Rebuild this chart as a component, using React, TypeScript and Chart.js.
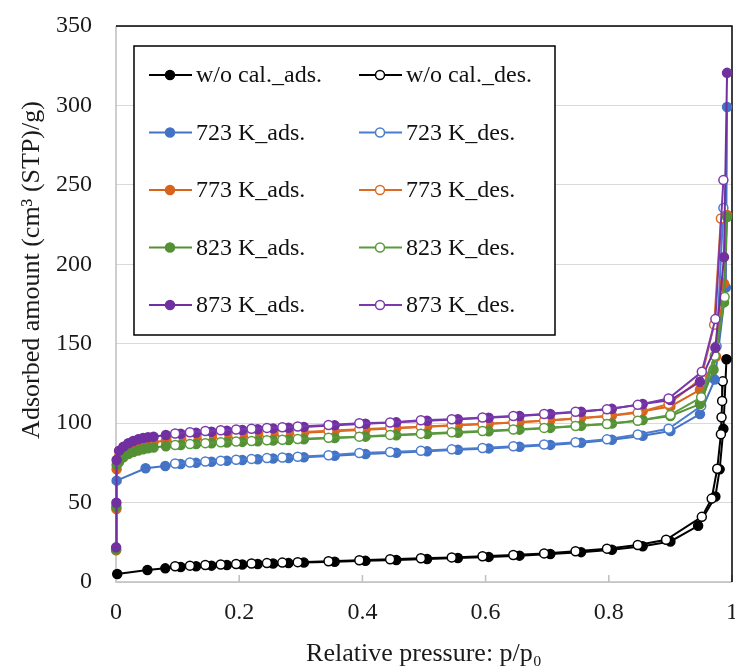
import React, { useEffect, useRef } from "react";
import { Chart, registerables } from "chart.js";

Chart.register(...registerables);

const FONT = "'Liberation Serif', 'Times New Roman', serif";

// ---- axis ticks / titles ----
const X_TICKS = [0, 0.2, 0.4, 0.6, 0.8, 1];
const Y_TICKS = [0, 50, 100, 150, 200, 250, 300, 350];
const X_TITLE = "Relative pressure: p/p\u2080";
const Y_TITLE = "Adsorbed amount (cm\u00B3 (STP)/g)";

// ---- shared relative pressures ----
const P_ADS_LOW = [0.0002, 0.0006, 0.001, 0.005, 0.012, 0.02, 0.028, 0.036, 0.044, 0.052, 0.061, 0.081];
const P_ADS_MID = [0.105, 0.13, 0.155, 0.18, 0.205, 0.23, 0.255, 0.28, 0.305, 0.355, 0.405, 0.455, 0.505, 0.555, 0.605, 0.655, 0.705, 0.755, 0.805, 0.855, 0.9];
const P_DES_MID = [0.847, 0.797, 0.746, 0.695, 0.645, 0.595, 0.545, 0.495, 0.445, 0.395, 0.345, 0.295, 0.27, 0.245, 0.22, 0.195, 0.17, 0.145, 0.12, 0.096];

// ---- w/o cal. ----
const P_ADS_WO_LOW = [0.002, 0.051, 0.08];
const V_ADS_WO_LOW = [5, 7.5, 8.6];
const V_ADS_WO_MID = [9.4, 9.9, 10.3, 10.7, 11, 11.3, 11.6, 11.9, 12.2, 12.7, 13.3, 13.9, 14.5, 15.1, 15.8, 16.6, 17.6, 18.8, 20.3, 22.5, 25.5];
const P_ADS_WO_HIGH = [0.945, 0.973, 0.98, 0.986, 0.991];
const V_ADS_WO_HIGH = [35.4, 53.8, 70.9, 96.4, 140.2];
const P_DES_WO_HIGH = [0.985, 0.984, 0.983, 0.982, 0.976, 0.967, 0.951, 0.893];
const V_DES_WO_HIGH = [126.3, 114, 103.7, 93, 71.3, 52.5, 41, 26.6];
const V_DES_WO_MID = [23.3, 21, 19.4, 18, 17, 16.2, 15.5, 14.9, 14.3, 13.7, 13.1, 12.5, 12.2, 11.9, 11.6, 11.3, 11, 10.7, 10.3, 9.9];

// ---- 723 K ----
const P_ADS_723_LOW = [0.001, 0.048, 0.08];
const V_ADS_723_LOW = [63.8, 71.6, 73];
const V_ADS_723_MID = [74.3, 75, 75.7, 76.3, 76.8, 77.3, 77.7, 78.1, 78.5, 79.5, 80.6, 81.4, 82.3, 83.2, 84.1, 85.1, 86.3, 87.7, 89.5, 92, 95];
const P_ADS_723_HIGH = [0.948, 0.972, 0.99, 0.992];
const V_ADS_723_HIGH = [105.7, 127.4, 185.4, 299];
const P_DES_723_HIGH = [0.986, 0.975, 0.95, 0.897];
const V_DES_723_HIGH = [235.5, 148.4, 110.8, 96.5];
const V_DES_723_MID = [92.8, 89.8, 88, 86.6, 85.4, 84.4, 83.5, 82.6, 81.8, 81.2, 79.8, 78.8, 78.4, 78, 77.5, 77, 76.4, 75.8, 75.2, 74.6];

// ---- 773 K ----
const V_ADS_773_LOW = [20, 46, 71, 79, 82, 84, 85.3, 86.2, 87, 87.6, 88, 89];
const V_ADS_773_MID = [89.8, 90.5, 91.1, 91.6, 92.1, 92.6, 93, 93.5, 93.9, 94.9, 95.9, 96.8, 97.7, 98.6, 99.6, 100.6, 101.8, 103.2, 104.8, 107.5, 110.5];
const P_ADS_773_HIGH = [0.948, 0.974, 0.987, 0.992];
const V_ADS_773_HIGH = [121, 142, 188, 231];
const P_DES_773_HIGH = [0.982, 0.971, 0.95, 0.897];
const V_DES_773_HIGH = [228.8, 162, 128, 112];
const V_DES_773_MID = [106.6, 104.3, 102.7, 101.5, 100.4, 99.5, 98.6, 97.8, 96.9, 96.1, 95.2, 94.2, 93.8, 93.3, 92.9, 92.4, 91.9, 91.4, 90.8, 90.1];

// ---- 823 K ----
const V_ADS_823_LOW = [20.5, 47.4, 73.6, 75.5, 78.5, 80.5, 81.8, 82.8, 83.6, 84.2, 84.7, 85.5];
const V_ADS_823_MID = [86.2, 86.8, 87.3, 87.8, 88.2, 88.6, 89, 89.4, 89.8, 90.7, 91.5, 92.3, 93.1, 94, 94.9, 95.9, 97, 98.3, 99.8, 102, 104.5];
const P_ADS_823_HIGH = [0.948, 0.97, 0.987, 0.992];
const V_ADS_823_HIGH = [112, 133.6, 176, 229.7];
const P_DES_823_HIGH = [0.988, 0.972, 0.95, 0.9];
const V_DES_823_HIGH = [179.4, 142.4, 116.3, 105.2];
const V_DES_823_MID = [101.5, 99.5, 98.2, 97, 96, 95, 94.2, 93.4, 92.6, 91.5, 90.8, 90, 89.6, 89.2, 88.8, 88.4, 87.9, 87.4, 86.8, 86.2];

// ---- 873 K ----
const V_ADS_873_LOW = [21.8, 49.9, 76.8, 82.7, 85.2, 87.3, 88.8, 89.8, 90.6, 91.1, 91.5, 92.5];
const V_ADS_873_MID = [93.3, 94, 94.6, 95.2, 95.7, 96.2, 96.7, 97.1, 97.6, 98.6, 99.6, 100.5, 101.5, 102.4, 103.4, 104.5, 105.8, 107.2, 109, 112, 114.5];
const P_ADS_873_HIGH = [0.948, 0.973, 0.987, 0.992];
const V_ADS_873_HIGH = [126, 147.5, 204.5, 320.5];
const P_DES_873_HIGH = [0.986, 0.973, 0.951, 0.897];
const V_DES_873_HIGH = [253, 165.5, 132.3, 115.5];
const V_DES_873_MID = [111.5, 108.8, 107.2, 105.8, 104.5, 103.6, 102.4, 101.8, 100.4, 99.9, 98.8, 97.9, 97.4, 97, 96.5, 96, 95.5, 95, 94.3, 93.5];

const LABELS = [
  "w/o cal._ads.", "w/o cal._des.",
  "723 K_ads.", "723 K_des.",
  "773 K_ads.", "773 K_des.",
  "823 K_ads.", "823 K_des.",
  "873 K_ads.", "873 K_des.",
];
const COLORS = ["#000000", "#000000", "#4472C4", "#4A7DD0", "#D8631C", "#DC6C24", "#549034", "#5A9A3C", "#7030A0", "#7A3AAE"];
const FILLED = [true, false, true, false, true, false, true, false, true, false];

const SERIES_P = [
  [...P_ADS_WO_LOW, ...P_ADS_MID, ...P_ADS_WO_HIGH],
  [...P_DES_WO_HIGH, ...P_DES_MID],
  [...P_ADS_723_LOW, ...P_ADS_MID, ...P_ADS_723_HIGH],
  [...P_DES_723_HIGH, ...P_DES_MID],
  [...P_ADS_LOW, ...P_ADS_MID, ...P_ADS_773_HIGH],
  [...P_DES_773_HIGH, ...P_DES_MID],
  [...P_ADS_LOW, ...P_ADS_MID, ...P_ADS_823_HIGH],
  [...P_DES_823_HIGH, ...P_DES_MID],
  [...P_ADS_LOW, ...P_ADS_MID, ...P_ADS_873_HIGH],
  [...P_DES_873_HIGH, ...P_DES_MID],
];
const SERIES_V = [
  [...V_ADS_WO_LOW, ...V_ADS_WO_MID, ...V_ADS_WO_HIGH],
  [...V_DES_WO_HIGH, ...V_DES_WO_MID],
  [...V_ADS_723_LOW, ...V_ADS_723_MID, ...V_ADS_723_HIGH],
  [...V_DES_723_HIGH, ...V_DES_723_MID],
  [...V_ADS_773_LOW, ...V_ADS_773_MID, ...V_ADS_773_HIGH],
  [...V_DES_773_HIGH, ...V_DES_773_MID],
  [...V_ADS_823_LOW, ...V_ADS_823_MID, ...V_ADS_823_HIGH],
  [...V_DES_823_HIGH, ...V_DES_823_MID],
  [...V_ADS_873_LOW, ...V_ADS_873_MID, ...V_ADS_873_HIGH],
  [...V_DES_873_HIGH, ...V_DES_873_MID],
];

const MARKER_R = 4.5;

const framePlugin = {
  id: "frame",
  beforeDatasetsDraw(chart: any) {
    const { ctx, chartArea, scales } = chart;
    const { left, right, top, bottom } = chartArea;
    ctx.save();
    ctx.strokeStyle = "#bfbfbf";
    ctx.lineWidth = 1.5;
    ctx.beginPath();
    ctx.moveTo(left, top);
    ctx.lineTo(left, bottom);
    ctx.lineTo(right, bottom);
    X_TICKS.forEach((t) => {
      const px = scales.x.getPixelForValue(t);
      ctx.moveTo(px, bottom);
      ctx.lineTo(px, bottom - 7);
    });
    ctx.stroke();
    ctx.strokeStyle = "#000";
    ctx.lineWidth = 1.5;
    ctx.beginPath();
    ctx.moveTo(left, top);
    ctx.lineTo(right, top);
    ctx.lineTo(right, bottom);
    ctx.stroke();
    // y-axis title
    ctx.translate(32, 270);
    ctx.rotate(-Math.PI / 2);
    ctx.font = `26px ${FONT}`;
    ctx.fillStyle = "#1a1a1a";
    ctx.textAlign = "center";
    ctx.textBaseline = "middle";
    ctx.fillText(Y_TITLE, 0, 0);
    ctx.restore();
  },
};

const legendPlugin = {
  id: "boxLegend",
  afterDraw(chart: any) {
    const ctx = chart.ctx;
    const bx = 134, by = 46, bw = 421, bh = 289;
    ctx.save();
    ctx.fillStyle = "#fff";
    ctx.fillRect(bx, by, bw, bh);
    ctx.strokeStyle = "#000";
    ctx.lineWidth = 1.5;
    ctx.strokeRect(bx, by, bw, bh);
    ctx.font = `24px ${FONT}`;
    ctx.textBaseline = "middle";
    ctx.textAlign = "left";
    const rowY0 = 75, rowStep = 57.5;
    const colX = [149, 359];
    chart.data.datasets.forEach((ds: any, i: number) => {
      const row = Math.floor(i / 2);
      const col = i % 2;
      const y = rowY0 + row * rowStep;
      const x0 = colX[col];
      ctx.strokeStyle = COLORS[i];
      ctx.lineWidth = 2;
      ctx.beginPath();
      ctx.moveTo(x0, y);
      ctx.lineTo(x0 + 43, y);
      ctx.stroke();
      ctx.beginPath();
      ctx.arc(x0 + 21, y, MARKER_R, 0, Math.PI * 2);
      ctx.fillStyle = FILLED[i] ? COLORS[i] : "#fff";
      ctx.fill();
      ctx.lineWidth = 1.5;
      ctx.stroke();
      ctx.fillStyle = "#111";
      ctx.fillText(ds.label, x0 + 47, y + 1);
    });
    ctx.restore();
  },
};

export default function App() {
  const ref = useRef<HTMLCanvasElement | null>(null);

  useEffect(() => {
    if (!ref.current) return;
    const n = LABELS.length;
    const datasets = LABELS.map((label, i) => ({
      label,
      data: SERIES_P[i].map((x, k) => ({ x, y: SERIES_V[i][k] })),
      borderColor: COLORS[i],
      backgroundColor: COLORS[i],
      pointBackgroundColor: FILLED[i] ? COLORS[i] : "#ffffff",
      pointBorderColor: COLORS[i],
      pointBorderWidth: 1.5,
      pointRadius: MARKER_R,
      borderWidth: 2,
      tension: 0,
      fill: false,
      clip: false as any,
      order: n - i,
    }));

    const chart = new Chart(ref.current, {
      type: "line",
      data: { datasets },
      options: {
        animation: false,
        responsive: false,
        parsing: false as any,
        normalized: true,
        layout: { padding: { top: 26, right: 0, left: 0, bottom: 0 } },
        plugins: { legend: { display: false }, tooltip: { enabled: false } },
        scales: {
          x: {
            type: "linear",
            min: 0,
            max: 1,
            afterBuildTicks: (s: any) => {
              s.ticks = X_TICKS.map((v) => ({ value: v }));
            },
            afterFit: (s: any) => {
              s.height = 86;
              s.paddingLeft = 0;
              s.paddingRight = 0;
            },
            grid: { display: false, drawTicks: false },
            border: { display: false },
            ticks: {
              padding: 16,
              color: "#1a1a1a",
              font: { family: FONT, size: 24 },
              maxRotation: 0,
              autoSkip: false,
              callback: (v: any) => String(Math.round(Number(v) * 10) / 10),
            },
            title: {
              display: true,
              text: X_TITLE,
              color: "#1a1a1a",
              font: { family: FONT, size: 26 },
              padding: { top: 0, bottom: -2 },
            },
          },
          y: {
            type: "linear",
            min: 0,
            max: 350,
            afterBuildTicks: (s: any) => {
              s.ticks = Y_TICKS.map((v) => ({ value: v }));
            },
            afterFit: (s: any) => {
              s.width = 116;
              s.paddingTop = 0;
              s.paddingBottom = 0;
            },
            grid: { color: "#d9d9d9", lineWidth: 1, drawTicks: false },
            border: { display: false },
            ticks: {
              padding: 24,
              color: "#1a1a1a",
              font: { family: FONT, size: 24 },
              autoSkip: false,
            },
            title: { display: false },
          },
        },
      },
      plugins: [framePlugin, legendPlugin],
    });
    return () => chart.destroy();
  }, []);

  return (
    <div style={{ position: "fixed", left: 0, top: 0, width: 735, height: 668, overflow: "hidden", background: "#fff" }}>
      <canvas ref={ref} width={738} height={668} style={{ display: "block" }} />
    </div>
  );
}
